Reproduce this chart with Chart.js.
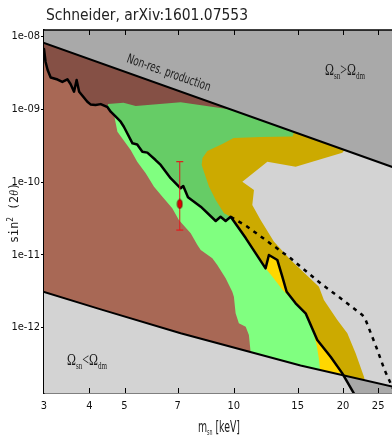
<!DOCTYPE html>
<html>
<head>
<meta charset="utf-8">
<script src="https://cdn.jsdelivr.net/npm/chart.js@4.4.1/dist/chart.umd.min.js"></script>
<style>
  html, body { margin: 0; padding: 0; background: #fff; }
  canvas { display: block; }
</style>
</head>
<body>
<canvas id="c" width="392" height="437"></canvas>
<script>
// Axis ticks
const xTicks = [3, 4, 5, 7, 10, 15, 20, 25];
const yTicks = [1e-12, 1e-11, 1e-10, 1e-9, 1e-8];
const yTickLabels = ['1e-12', '1e-11', '1e-10', '1e-09', '1e-08'];
const xRange = [3, 27.3];
const yRange = [1.262e-13, 1.232e-8];

// Non-resonant production bound (upper straight line)
const nonResLine = [[3, 8.15e-9], [28, 1.55e-10]];
// Omega_sn = Omega_dm line (lower straight-ish line)
const underLine = [[3, 3.08e-12], [4.30, 1.78e-12], [7.14, 8.35e-13], [15.28, 3.01e-13], [28, 1.51e-13]];

// X-ray bound (solid black curve)
const xrayLine = [
  [3.00, 6.75e-9], [3.03, 4.48e-9], [3.07, 3.47e-9], [3.13, 2.74e-9], [3.27, 2.57e-9],
  [3.37, 2.38e-9], [3.48, 2.59e-9], [3.55, 2.23e-9], [3.63, 1.75e-9], [3.69, 2.53e-9],
  [3.75, 1.75e-9], [3.95, 1.27e-9], [4.03, 1.17e-9], [4.16, 1.15e-9], [4.30, 1.18e-9],
  [4.49, 1.07e-9], [4.58, 9.28e-10], [4.73, 7.92e-10], [4.88, 6.76e-10], [4.98, 5.77e-10],
  [5.26, 3.41e-10], [5.42, 3.29e-10], [5.60, 2.62e-10], [5.78, 2.54e-10], [6.09, 2.01e-10],
  [6.29, 1.72e-10], [6.70, 1.13e-10], [7.14, 8.22e-11], [7.26, 8.84e-11], [7.48, 6.18e-11],
  [8.11, 4.59e-11], [8.92, 2.92e-11], [9.20, 3.34e-11], [9.50, 2.92e-11], [9.81, 3.34e-11],
  [10.79, 1.70e-11], [12.24, 6.53e-12], [12.50, 9.95e-12], [13.19, 8.49e-12], [13.61, 5.01e-12],
  [13.99, 3.11e-12], [14.81, 2.16e-12], [15.78, 1.57e-12], [16.99, 6.75e-13], [18.49, 3.98e-13],
  [19.92, 2.35e-13], [21.43, 1.25e-13], [21.74, 1.08e-13]
];

// Dotted bound
const dottedLine = [
  [9.81, 3.34e-11], [10.90, 2.44e-11], [14.35, 8.96e-12], [17.35, 4.06e-12], [19.70, 2.53e-12],
  [22.62, 1.49e-12], [23.10, 1.27e-12], [24.76, 5.24e-13], [26.05, 2.61e-13], [28, 1.18e-13]
];

// Left edge of the light green band (top to bottom)
const greenEdge = [
  [4.68, 8.37e-10], [4.78, 4.93e-10], [5.20, 2.76e-10], [5.42, 1.91e-10], [5.72, 1.32e-10],
  [6.03, 8.64e-11], [6.36, 6.30e-11], [6.77, 4.36e-11], [7.06, 3.01e-11], [7.61, 1.98e-11],
  [7.94, 1.37e-11], [8.11, 1.17e-11], [8.73, 8.96e-12], [9.01, 7.25e-12], [9.50, 4.76e-12],
  [9.91, 3.11e-12], [10.01, 2.66e-12], [10.12, 1.57e-12], [10.33, 1.15e-12], [10.79, 1.03e-12],
  [11.01, 7.91e-13], [11.13, 4.62e-13], [11.20, 2.97e-13]
];

// Upper edge of the medium green region
const greenTop = [[4.50, 1.18e-9], [4.97, 1.23e-9], [5.37, 1.11e-9], [7.14, 1.25e-9], [9.81, 9.95e-10]];

// Left / upper edge of the gold region
const goldEdge = [
  [9.40, 3.73e-11], [8.92, 5.67e-11], [8.55, 8.64e-11], [8.28, 1.38e-10], [8.16, 1.72e-10],
  [8.20, 2.14e-10], [8.46, 2.68e-10], [9.30, 3.34e-10], [9.99, 4.04e-10], [11.86, 4.17e-10],
  [14.53, 4.24e-10]
];

// Boundary between gold and the unconstrained grey region on the right
const grayEdge = [
  [19.92, 2.54e-10], [14.81, 1.63e-10], [12.38, 1.91e-10], [10.56, 1.01e-10], [11.37, 7.79e-11],
  [11.25, 4.84e-11], [11.86, 3.01e-11], [12.90, 1.52e-11], [14.35, 8.49e-12], [17.17, 3.65e-12],
  [17.72, 2.40e-12], [19.30, 1.27e-12], [20.56, 8.35e-13], [21.67, 4.43e-13], [22.85, 2.11e-13]
];

// Left edge of the yellow strip
const yellowEdge = [
  [12.24, 6.53e-12], [12.80, 4.96e-12], [13.64, 3.29e-12], [14.81, 2.18e-12], [15.78, 1.49e-12],
  [16.49, 9.27e-13], [16.92, 5.76e-13], [17.19, 3.59e-13], [17.35, 2.23e-13]
];

// 3.5 keV line best fit with its range
const signal = { x: 7.1, y: 5.0e-11, lo: 2.19e-11, hi: 1.91e-10 };

// ---- build shapes ----
const seg = (lo, hi) => xrayLine.filter(([x]) => x >= lo && x <= hi);
const rev = a => a.slice().reverse();

const shapes = {
  lightBrown: [[2.9, 2e-8], [2.9, 1e-13], [12, 1e-13], [12, 2e-8]],
  darkBrown: [[2.9, 2e-8], ...seg(0, 4.49), [10.45, 5.2e-10], [10.45, 2e-8]],
  mediumGreen: [[4.49, 1.07e-9], ...greenTop, [15.3, 1.6e-9], [15.3, 1.17e-11], ...rev(seg(4.49, 10.79))],
  lightGreen: [...greenEdge, [22, 1e-13], ...rev(seg(4.7, 21.43))],
  gold: [[9.81, 3.34e-11], ...goldEdge, [15.3, 9.8e-10], [29, 9.8e-10], [29, 1e-13], ...rev(seg(10.79, 22))],
  yellow: [...yellowEdge, ...rev(seg(12.3, 21.43))],
  grayRight: [[21.3, 3.8e-10], ...grayEdge, [23.3, 1.3e-13], [29, 1e-13], [29, 3.8e-10]],
  cornerGray: [[20.05, 2.21e-13], [28, 1.51e-13], [28, 1e-13], [21.74, 1.08e-13], [21.43, 1.25e-13]]
};

const pts = a => a.map(([x, y]) => ({ x, y }));

const layers = [];
function area(data, color) {
  layers.push({ data: pts(data), showLine: true, fill: 'shape', backgroundColor: color,
    borderWidth: 0, borderColor: color, pointRadius: 0 });
}
function stroke(data, width, dash) {
  layers.push({ data: pts(data), showLine: true, fill: false, borderColor: '#000',
    borderWidth: width, borderDash: dash || [], borderCapStyle: dash ? 'butt' : 'round',
    borderJoinStyle: 'round', pointRadius: 0 });
}

area(shapes.lightBrown, '#a86855');
area(shapes.darkBrown, '#855045');
area(shapes.mediumGreen, '#66cc66');
area(shapes.lightGreen, '#80ff80');
area(shapes.gold, '#ccaa00');
area(shapes.yellow, '#ffd700');
area(shapes.grayRight, '#d3d3d3');
layers.push({ data: pts(nonResLine), showLine: true, fill: 'end', backgroundColor: '#a9a9a9', borderWidth: 0, pointRadius: 0 });
layers.push({ data: pts(underLine), showLine: true, fill: 'start', backgroundColor: '#d3d3d3', borderWidth: 0, pointRadius: 0 });
area(shapes.cornerGray, '#a9a9a9');
stroke(xrayLine, 2.5);
stroke(dottedLine, 2.5, [4, 5]);
stroke(nonResLine, 2);
stroke(underLine, 2);

// error bar
layers.push({ data: [{ x: signal.x, y: signal.lo }, { x: signal.x, y: signal.hi }], showLine: true,
  borderColor: '#e41a1c', borderWidth: 1, pointStyle: 'line', pointRadius: 3.5,
  pointBorderColor: '#e41a1c', pointBorderWidth: 1.2, fill: false });

// ellipse marker
const dot = document.createElement('canvas');
dot.width = 7; dot.height = 11;
(() => {
  const g = dot.getContext('2d');
  g.beginPath();
  g.ellipse(3.5, 5.5, 2.4, 4.4, 0, 0, Math.PI * 2);
  g.fillStyle = '#e00000';
  g.fill();
  g.lineWidth = 0.8;
  g.strokeStyle = '#5a0000';
  g.stroke();
})();
layers.push({ data: [{ x: signal.x, y: signal.y }], pointStyle: dot, pointRadius: 5, showLine: false });

// first pushed is drawn first
layers.forEach((d, i) => { d.order = layers.length - i; });

// ---- text helpers ----
function drawRuns(ctx, parts, x, y, targetW, angle, align) {
  ctx.save();
  let w = 0;
  parts.forEach(p => { ctx.font = p.font; p.w = ctx.measureText(p.t).width; w += p.w; });
  const k = targetW ? targetW / w : 1;
  ctx.translate(x, y);
  if (angle) ctx.rotate(angle);
  ctx.scale(k, 1);
  let cx = align === 'center' ? -w / 2 : 0;
  ctx.textBaseline = 'alphabetic';
  ctx.textAlign = 'left';
  parts.forEach(p => {
    ctx.font = p.font;
    ctx.fillStyle = p.color || '#1a1a1a';
    ctx.fillText(p.t, cx, p.dy || 0);
    cx += p.w;
  });
  ctx.restore();
}

const serif = "'Liberation Serif', 'DejaVu Serif', serif";
const sans = "'DejaVu Sans', 'Liberation Sans', sans-serif";
const mono = "'DejaVu Sans Mono', 'Liberation Mono', monospace";

const decor = {
  id: 'decor',
  beforeDraw(chart) {
    const { ctx, chartArea: a } = chart;
    ctx.save();
    ctx.fillStyle = '#fff';
    ctx.fillRect(0, 0, chart.width, chart.height);
    ctx.fillStyle = '#d3d3d3';
    ctx.fillRect(a.left, a.top, a.right - a.left, a.bottom - a.top);
    ctx.restore();
  },
  afterDraw(chart) {
    const { ctx, chartArea: a, scales } = chart;
    const x = scales.x;
    ctx.save();
    ctx.strokeStyle = '#000';
    ctx.lineWidth = 1.5;
    ctx.beginPath();
    ctx.moveTo(a.left, a.top);
    ctx.lineTo(a.right, a.top);
    ctx.stroke();
    ctx.lineWidth = 1;
    x.ticks.forEach(t => {
      const px = Math.round(x.getPixelForValue(t.value)) + 0.5;
      if (px < a.left + 2) return;
      ctx.beginPath();
      ctx.moveTo(px, a.bottom);
      ctx.lineTo(px, a.bottom - 5);
      ctx.moveTo(px, a.top);
      ctx.lineTo(px, a.top + 5);
      ctx.stroke();
    });
    ctx.restore();

    // title
    drawRuns(ctx, [{ t: 'Schneider, arXiv:1601.07553', font: `16px ${sans}`, color: '#222' }], 46, 20, 202);
    // rotated bound label
    drawRuns(ctx, [{ t: 'Non-res. production', font: `13px ${sans}`, color: '#1a1a1a' }], 126, 62, 88, 0.339);
    // abundance labels
    const omega = (rel) => [
      { t: 'Ω', font: `17px ${serif}` },
      { t: 'sn', font: `10px ${serif}`, dy: 4 },
      { t: rel, font: `17px ${serif}` },
      { t: 'Ω', font: `17px ${serif}` },
      { t: 'dm', font: `10px ${serif}`, dy: 4 }
    ];
    drawRuns(ctx, omega('>'), 325, 75, 40);
    drawRuns(ctx, omega('<'), 67, 365, 40);
    // axis titles
    drawRuns(ctx, [
      { t: 'm', font: `16px ${sans}` },
      { t: 'sn', font: `8px ${sans}`, dy: 3 },
      { t: ' [keV]', font: `16px ${sans}` }
    ], 198, 432, 42);
    drawRuns(ctx, [
      { t: 'sin', font: `12px ${mono}` },
      { t: '2', font: `8px ${mono}`, dy: -5 },
      { t: ' (2', font: `12px ${mono}` },
      { t: 'θ', font: `italic 12px ${serif}` },
      { t: ')', font: `12px ${mono}` }
    ], 18, 213, 60, -Math.PI / 2, 'center');
  }
};

const tickFont = { family: "'Liberation Sans Narrow', 'DejaVu Sans Condensed', 'Liberation Sans', sans-serif", size: 11 };

new Chart(document.getElementById('c'), {
  type: 'scatter',
  data: { datasets: layers },
  options: {
    responsive: false,
    devicePixelRatio: 1,
    animation: false,
    events: [],
    layout: { autoPadding: false, padding: { top: 30, left: 0, right: 0, bottom: 0 } },
    plugins: { legend: { display: false }, tooltip: { enabled: false }, title: { display: false } },
    scales: {
      x: {
        type: 'logarithmic',
        min: xRange[0], max: xRange[1],
        z: 1,
        afterBuildTicks: s => { s.ticks = xTicks.map(v => ({ value: v })); },
        afterFit: s => { s.height = 44; s.paddingLeft = 0; s.paddingRight = 0; },
        grid: { display: true, drawOnChartArea: false, drawTicks: false },
        border: { display: true, color: '#000', width: 1.5 },
        ticks: { autoSkip: false, maxRotation: 0, minRotation: 0, padding: 7, color: '#111', font: tickFont,
          callback: v => String(v) }
      },
      y: {
        type: 'logarithmic',
        min: yRange[0], max: yRange[1],
        z: 1,
        afterBuildTicks: s => { s.ticks = yTicks.map(v => ({ value: v })); },
        afterFit: s => { s.width = 44; s.paddingTop = 0; s.paddingBottom = 0; },
        grid: { display: true, drawOnChartArea: false, drawTicks: true, tickLength: 3, tickColor: '#000', tickWidth: 1 },
        border: { display: true, color: '#000', width: 1.5 },
        ticks: { autoSkip: false, padding: 1, color: '#111', font: tickFont,
          callback: v => {
            const i = yTicks.findIndex(t => Math.abs(Math.log10(t) - Math.log10(v)) < 1e-6);
            return i >= 0 ? yTickLabels[i] : '';
          } }
      }
    }
  },
  plugins: [decor]
});
</script>
</body>
</html>
